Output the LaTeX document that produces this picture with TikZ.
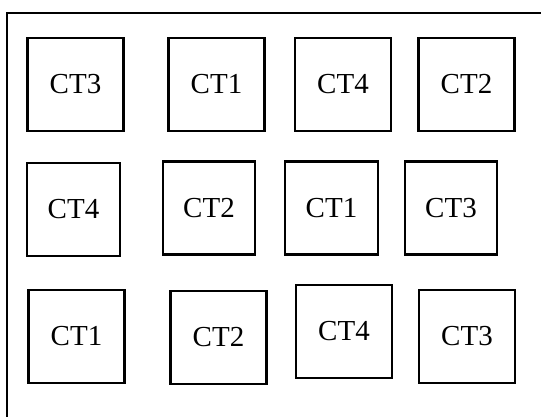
\documentclass[tikz,border=0pt]{standalone}
\usepackage{fontspec}
\setmainfont{Liberation Serif}
\begin{document}
\begin{tikzpicture}[x=1pt, y=-1pt, every node/.style={draw, line width=2.2pt, minimum width=96pt, minimum height=93pt, inner sep=0pt, font=\fontsize{29}{30}\selectfont}]
  \useasboundingbox (0,0) rectangle (541,417);
  \draw[line width=2.4pt] (7,417) -- (7,13) -- (541,13);

  % first row
  \node (A1) at (75.5,84.5) {CT3};
  \node (A2) at (216.5,84.5) {CT1};
  \node (A3) at (343,84.5) {CT4};
  \node (A4) at (466.5,84.5) {CT2};

  % second row
  \node[minimum width=93pt] (B1) at (73.5,209.5) {CT4};
  \node[minimum width=92pt] (B2) at (209,208) {CT2};
  \node[minimum width=93pt] (B3) at (331.5,208) {CT1};
  \node[minimum width=92pt] (B4) at (451,208) {CT3};

  % third row
  \node (C1) at (76.5,336.5) {CT1};
  \node (C2) at (218.5,337.5) {CT2};
  \node (C3) at (344,331.5) {CT4};
  \node (C4) at (467,336.5) {CT3};
\end{tikzpicture}
\end{document}
